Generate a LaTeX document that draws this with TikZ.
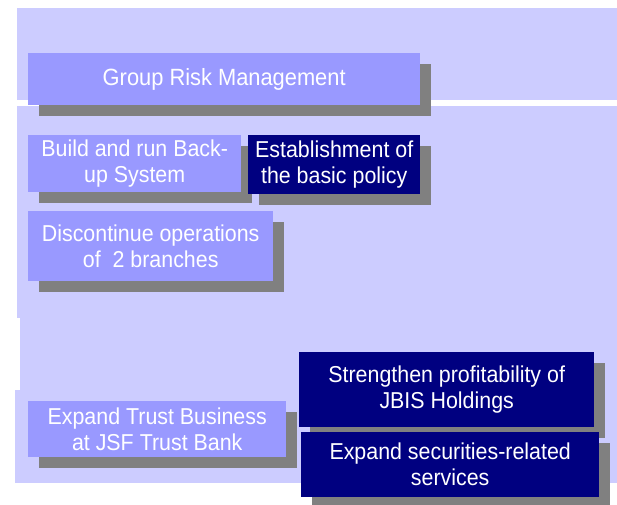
\documentclass[tikz,border=0pt]{standalone}
\usepackage{fontspec}
\setmainfont{Liberation Sans}[FakeStretch=0.93]
\usetikzlibrary{shadows}
\definecolor{panelc}{HTML}{CCCCFF}
\definecolor{lightc}{HTML}{9999FF}
\definecolor{navyc}{HTML}{000080}
\definecolor{shadc}{HTML}{808080}
\tikzset{
  panel/.style={fill=panelc, draw=none},
  box/.style={anchor=north west, inner sep=0pt, align=center, text=white,
    font=\fontsize{23}{26}\selectfont,
    drop shadow={shadow xshift=11pt, shadow yshift=-11pt, fill=shadc, opacity=1}},
  lightbox/.style={box, fill=lightc},
  navybox/.style={box, fill=navyc}
}
\begin{document}
\begin{tikzpicture}[x=1pt,y=-1pt]
\useasboundingbox (0,0) rectangle (617,504);
\fill[white] (0,0) rectangle (617,504);
% panels
\fill[panel] (17,8) rectangle (617,100);
\fill[panel] (17,106) rectangle (617,318);
\fill[panel] (20,318) rectangle (617,390);
\fill[panel] (15,390) rectangle (617,483);
% boxes
\node[lightbox, minimum width=392pt, minimum height=52pt, font=\fontsize{23.5}{27}\selectfont] (grm) at (28,53) {Group Risk Management};
\node[lightbox, minimum width=213pt, minimum height=57pt] (build) at (28,135) {Build and run Back-\\up System};
\node[navybox, minimum width=172pt, minimum height=59pt] (estab) at (248,135) {Establishment of\\the basic policy};
\node[lightbox, minimum width=245pt, minimum height=70pt] (disc) at (28,211) {Discontinue operations\\of~~2 branches};
\node[lightbox, minimum width=258pt, minimum height=56pt] (trust) at (28,401) {Expand Trust Business\\at JSF Trust Bank};
\node[navybox, minimum width=295pt, minimum height=75pt] (streng) at (299,352) {Strengthen profitability of\\JBIS Holdings};
\node[navybox, minimum width=298pt, minimum height=65pt] (secur) at (301,432) {Expand securities-related\\services};
\end{tikzpicture}
\end{document}
